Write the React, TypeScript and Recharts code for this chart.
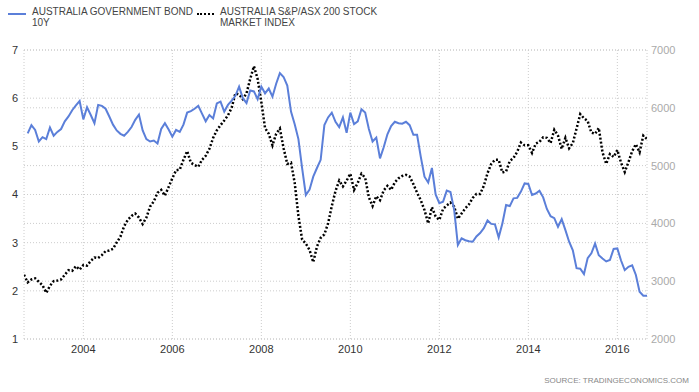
import { LineChart, Line, XAxis, YAxis, CartesianGrid } from 'recharts';

// monthly readings, Sep 2002 .. Sep 2016
const startYear = 2002;
const startMonth = 8; // September (0-based)

// Australia 10Y government bond yield, % (no reading for Sep 2002)
const bondYield: (number | null)[] = [
    null, 5.27, 5.44, 5.34,
    5.10, 5.19, 5.15, 5.39, 5.22, 5.30, 5.36, 5.52, 5.62, 5.75, 5.85, 5.94,
    5.56, 5.81, 5.65, 5.48, 5.86, 5.84, 5.78, 5.62, 5.45, 5.33, 5.26, 5.22,
    5.30, 5.40, 5.55, 5.66, 5.33, 5.15, 5.10, 5.12, 5.06, 5.36, 5.48, 5.35,
    5.20, 5.34, 5.30, 5.45, 5.70, 5.73, 5.78, 5.84, 5.68, 5.52, 5.65, 5.58,
    5.89, 5.93, 5.72, 5.86, 5.95, 6.05, 6.24, 6.00, 5.90, 6.16, 6.14, 5.98,
    6.24, 6.10, 6.20, 6.03, 6.30, 6.52, 6.44, 6.26, 5.72, 5.46, 5.15, 4.55,
    3.99, 4.10, 4.37, 4.55, 4.72, 5.44, 5.60, 5.70, 5.51, 5.40, 5.60, 5.28,
    5.70, 5.46, 5.52, 5.77, 5.70, 5.36, 5.10, 5.18, 4.75, 4.98, 5.25, 5.42,
    5.51, 5.48, 5.47, 5.51, 5.44, 5.24, 5.24, 4.78, 4.37, 4.25, 4.55, 4.00,
    3.82, 3.85, 4.08, 4.05, 3.68, 2.95, 3.09, 3.05, 3.03, 3.02, 3.13, 3.20,
    3.30, 3.46, 3.39, 3.38, 3.11, 3.40, 3.78, 3.76, 3.92, 3.93, 4.06, 4.23,
    4.22, 3.99, 4.02, 4.08, 3.94, 3.70, 3.55, 3.51, 3.33, 3.49, 3.26, 3.02,
    2.84, 2.47, 2.46, 2.35, 2.68, 2.78, 2.98, 2.74, 2.67, 2.61, 2.64, 2.87,
    2.88, 2.63, 2.43, 2.50, 2.53, 2.33, 1.98, 1.90, 1.90,
];

// S&P/ASX 200 index
const stockIndex = [
    3110, 2980, 3030, 3050,
    2990, 2930, 2800, 2920, 3000, 3010, 3030, 3110, 3190, 3180, 3260, 3200,
    3280, 3270, 3350, 3410, 3400, 3450, 3520, 3530, 3560, 3670, 3770, 3950,
    4060, 4130, 4170, 4100, 3990, 4100, 4290, 4380, 4530, 4580, 4480, 4630,
    4780, 4920, 4930, 5100, 5250, 5050, 5010, 4980, 5100, 5170, 5290, 5480,
    5610, 5700, 5780, 5870, 6000, 6250, 6230, 6150, 6250, 6500, 6720, 6500,
    6100, 5650, 5550, 5350, 5550, 5640, 5300, 5030, 5050, 4700, 4130, 3720,
    3650, 3540, 3330, 3600, 3750, 3810, 4000, 4300, 4560, 4740, 4640, 4740,
    4860, 4580, 4700, 4860, 4790, 4450, 4300, 4470, 4400, 4570, 4650, 4580,
    4710, 4780, 4820, 4840, 4810, 4680, 4530, 4400, 4230, 4000, 4280, 4120,
    4060, 4250, 4310, 4360, 4290, 4080, 4170, 4260, 4330, 4440, 4510, 4510,
    4650, 4870, 5030, 5100, 5100, 4880, 4900, 5080, 5130, 5240, 5400, 5350,
    5350, 5220, 5380, 5410, 5490, 5480, 5390, 5620, 5520, 5290, 5480, 5300,
    5390, 5640, 5890, 5820, 5770, 5570, 5550, 5650, 5230, 5030, 5200, 5150,
    5270, 5050, 4890, 5060, 5250, 5370, 5230, 5520, 5460,
];

const yearTicks = [2004, 2006, 2008, 2010, 2012, 2014, 2016];
const bondTicks = [1, 2, 3, 4, 5, 6, 7];
const stockTicks = [2000, 3000, 4000, 5000, 6000, 7000];

const data = stockIndex.map((s, i) => ({
    t: startYear + (startMonth + i) / 12,
    bond: bondYield[i],
    stock: s,
}));

const font = '"Liberation Sans", Arial, sans-serif';
const blue = '#5b7fd9';

const App = () => {
    return (
        <div style={{ position: 'absolute', left: 0, top: 0, width: 699, height: 392, background: '#fff', fontFamily: font }}>
            <div style={{ position: 'absolute', left: 8, top: 13, width: 18, height: 2, background: blue }} />
            <div style={{ position: 'absolute', left: 32, top: 6, fontSize: 10, lineHeight: '11px', color: '#444' }}>
                AUSTRALIA GOVERNMENT BOND<br />10Y
            </div>
            <div style={{ position: 'absolute', left: 197, top: 13, width: 17, height: 0, borderTop: '2px dotted #000' }} />
            <div style={{ position: 'absolute', left: 220, top: 6, fontSize: 10, lineHeight: '11px', color: '#444' }}>
                AUSTRALIA S&amp;P/ASX 200 STOCK<br />MARKET INDEX
            </div>
            <div style={{ position: 'absolute', right: 10, top: 376, fontSize: 8, color: '#888' }}>
                SOURCE: TRADINGECONOMICS.COM
            </div>
            <LineChart width={699} height={392} data={data} margin={{ top: 50, right: 0, bottom: 29, left: 0 }}>
                <CartesianGrid yAxisId="bond" stroke="#ccc" strokeDasharray="1 2" verticalPoints={undefined} />
                <CartesianGrid yAxisId="stock" stroke="#ccc" strokeDasharray="1 2" vertical={false} />
                <XAxis
                    dataKey="t"
                    type="number"
                    domain={[2002 + 8 / 12, 2016 + 8 / 12]}
                    ticks={yearTicks}
                    axisLine={false}
                    tickLine={false}
                    tickSize={0}
                    tickMargin={6}
                    height={24}
                    tick={{ fill: '#333', fontSize: 11, fontFamily: font }}
                    allowDataOverflow
                />
                <YAxis
                    yAxisId="bond"
                    orientation="left"
                    domain={[1, 7]}
                    ticks={bondTicks}
                    axisLine={false}
                    tickLine={false}
                    tickSize={0}
                    tickMargin={6}
                    width={24}
                    tick={{ fill: '#333', fontSize: 11, fontFamily: font }}
                />
                <YAxis
                    yAxisId="stock"
                    orientation="right"
                    domain={[2000, 7000]}
                    ticks={stockTicks}
                    axisLine={false}
                    tickLine={false}
                    tickSize={0}
                    tickMargin={4}
                    width={52}
                    tick={{ fill: '#aaa', fontSize: 11, fontFamily: font }}
                />
                <Line
                    yAxisId="stock"
                    dataKey="stock"
                    stroke="#000"
                    strokeWidth={2.5}
                    strokeDasharray="2 2"
                    dot={false}
                    type="linear"
                    isAnimationActive={false}
                />
                <Line
                    yAxisId="bond"
                    dataKey="bond"
                    stroke={blue}
                    strokeWidth={2}
                    dot={false}
                    type="linear"
                    connectNulls={false}
                    isAnimationActive={false}
                />
            </LineChart>
        </div>
    );
};

export default App;
